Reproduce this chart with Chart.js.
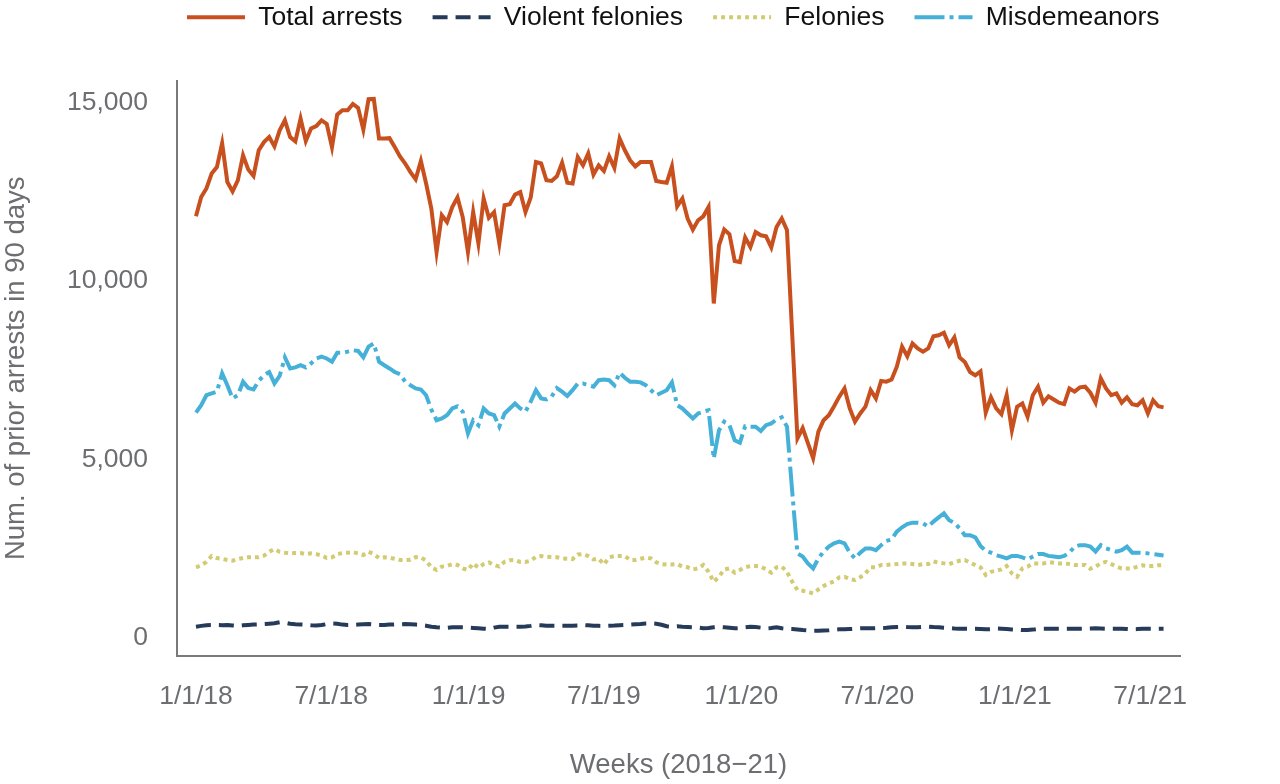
<!DOCTYPE html>
<html>
<head>
<meta charset="utf-8">
<script src="https://cdn.jsdelivr.net/npm/chart.js@4.4.1/dist/chart.umd.min.js"></script>
<style>
  html, body { margin: 0; padding: 0; background: #fff; }
  #wrap { width: 1280px; height: 784px; position: relative; }
</style>
</head>
<body>
<div id="wrap"><canvas id="chart-container"></canvas></div>
<script>
// weekly values, first week = 1/1/18
const totalArrests = [
  11810, 12350, 12590, 13010, 13190, 13860, 12770, 12510, 12820, 13520,
  13120, 12940, 13660, 13890, 14030, 13770, 14220, 14500, 14030, 13910,
  14550, 13920, 14270, 14340, 14500, 14400, 13750, 14660, 14780, 14780,
  14960, 14850, 14240, 15090, 15100, 13990, 13990, 14000, 13750, 13490,
  13290, 13050, 12850, 13360, 12730, 12030, 10810, 11840, 11650, 12070,
  12340, 11790, 10810, 11930, 11050, 12310, 11770, 11930, 11050, 12120,
  12150, 12420, 12490, 11930, 12340, 13330, 13290, 12820, 12800, 12930,
  13310, 12750, 12730, 13470, 13240, 13570, 12980, 13240, 13080, 13490,
  13170, 13990, 13660, 13380, 13210, 13330, 13330, 13330, 12800, 12770,
  12750, 13210, 12090, 12310, 11750, 11440, 11700, 11810, 12070, 9370,
  11000, 11440, 11310, 10560, 10530, 11220, 10950, 11370, 11280, 11250,
  10940, 11510, 11750, 11420, 8500, 5590, 5880, 5460, 5040, 5780,
  6100, 6240, 6490, 6760, 6990, 6430, 6060, 6290, 6480, 6940,
  6710, 7200, 7180, 7240, 7600, 8160, 7890, 8250, 8110, 8020,
  8110, 8450, 8480, 8550, 8200, 8420, 7860, 7730, 7450, 7360,
  7470, 6310, 6740, 6430, 6270, 6800, 5820, 6480, 6570, 6200,
  6800, 7040, 6590, 6770, 6680, 6590, 6550, 6990, 6900, 7020,
  7040, 6870, 6590, 7270, 6990, 6800, 6850, 6590, 6740, 6550,
  6520, 6660, 6290, 6660, 6490, 6460
];
const violentFelonies = [
  317, 340, 360, 364, 364, 360, 364, 350, 340, 355,
  364, 375, 380, 392, 400, 411, 440, 430, 400, 385,
  380, 375, 360, 350, 362, 390, 405, 400, 375, 364,
  364, 375, 385, 392, 380, 364, 364, 375, 382, 385,
  390, 385, 375, 364, 345, 317, 300, 290, 285, 300,
  298, 298, 290, 280, 271, 260, 250, 290, 317, 317,
  317, 317, 317, 325, 340, 364, 355, 345, 345, 345,
  345, 345, 345, 350, 364, 355, 345, 340, 336, 345,
  350, 360, 364, 375, 385, 392, 405, 411, 400, 370,
  330, 317, 330, 317, 310, 300, 290, 275, 280, 300,
  310, 300, 285, 271, 280, 300, 317, 305, 290, 271,
  280, 300, 271, 255, 250, 240, 224, 215, 205, 205,
  210, 215, 230, 243, 243, 250, 260, 271, 271, 271,
  275, 280, 285, 298, 310, 317, 305, 298, 300, 310,
  317, 305, 298, 290, 280, 265, 261, 261, 261, 261,
  255, 243, 250, 265, 261, 250, 240, 235, 224, 224,
  235, 255, 261, 261, 261, 261, 261, 261, 261, 261,
  261, 265, 271, 268, 261, 261, 261, 261, 255, 245,
  250, 258, 261, 261, 261, 261
];
const felonies = [
  1980, 2035, 2135, 2295, 2240, 2220, 2185, 2165, 2210, 2240,
  2260, 2260, 2265, 2305, 2415, 2490, 2415, 2390, 2370, 2380,
  2380, 2350, 2370, 2350, 2315, 2240, 2260, 2350, 2380, 2390,
  2405, 2370, 2325, 2415, 2350, 2240, 2260, 2250, 2220, 2185,
  2185, 2190, 2265, 2260, 2165, 1980, 1905, 2000, 2015, 2070,
  2045, 1950, 1905, 2090, 1970, 2070, 2120, 2045, 2000, 2135,
  2175, 2185, 2130, 2130, 2165, 2275, 2295, 2275, 2265, 2260,
  2230, 2220, 2210, 2340, 2350, 2295, 2200, 2220, 2060, 2260,
  2295, 2295, 2295, 2185, 2185, 2220, 2250, 2230, 2120, 2070,
  2055, 2060, 2070, 2000, 1980, 1920, 1950, 2045, 1855, 1575,
  1715, 1920, 1950, 1830, 1905, 1980, 2015, 2015, 2000, 1920,
  1830, 1980, 2000, 1855, 1575, 1345, 1325, 1290, 1250, 1360,
  1455, 1530, 1585, 1700, 1715, 1650, 1625, 1700, 1810, 1980,
  1980, 2045, 2045, 2060, 2070, 2090, 2090, 2070, 2045, 2070,
  2070, 2145, 2110, 2090, 2070, 2125, 2165, 2185, 2110, 2045,
  1980, 1765, 1855, 1885, 1920, 2015, 1810, 1715, 1950, 2000,
  2090, 2090, 2090, 2125, 2110, 2090, 2090, 2070, 2045, 2045,
  2045, 1940, 2000, 2090, 2135, 2070, 2000, 1950, 1950, 1950,
  2000, 2035, 2015, 2015, 2035, 2045
];
const misdemeanors = [
  6310, 6520, 6800, 6850, 6900, 7410, 7080, 6710, 6800, 7180,
  7000, 6960, 7200, 7360, 7450, 7130, 7340, 7860, 7550, 7580,
  7640, 7580, 7690, 7830, 7880, 7830, 7740, 7990, 7990, 8020,
  8060, 8040, 7860, 8160, 8250, 7740, 7640, 7550, 7450, 7390,
  7180, 7080, 6990, 6960, 6800, 6400, 6100, 6150, 6240, 6430,
  6490, 6340, 5730, 6100, 5960, 6430, 6290, 6240, 5920, 6290,
  6430, 6570, 6430, 6340, 6620, 6940, 6710, 6680, 6760, 7000,
  6900, 6780, 6940, 7130, 7130, 7080, 7040, 7220, 7240, 7220,
  7080, 7430, 7290, 7180, 7180, 7160, 7080, 6940, 6800, 6870,
  6940, 7160, 6520, 6430, 6290, 6150, 6290, 6340, 6380, 5030,
  5820, 6060, 5960, 5540, 5470, 5930, 5920, 5920, 5800, 5960,
  6010, 6120, 6180, 5920, 4100, 2370, 2280, 2090, 1950, 2230,
  2420, 2560, 2650, 2700, 2650, 2390, 2230, 2390, 2510, 2510,
  2460, 2600, 2720, 2760, 2980, 3100, 3190, 3230, 3230, 3210,
  3120, 3260, 3380, 3490, 3300, 3230, 3070, 2880, 2880, 2820,
  2580, 2440, 2390, 2320, 2280, 2230, 2300, 2300, 2260, 2200,
  2280, 2350, 2350, 2300, 2280, 2260, 2300, 2390, 2560, 2600,
  2600, 2560, 2420, 2600, 2510, 2460, 2420, 2460, 2560, 2390,
  2390, 2390, 2370, 2350, 2330, 2310
];

// x axis counts days from 1/1/18
const tickDays = [0, 181, 365, 546, 730, 912, 1096, 1277];
const tickLabels = ['1/1/18', '7/1/18', '1/1/19', '7/1/19', '1/1/20', '7/1/20', '1/1/21', '7/1/21'];
const yTicks = [0, 5000, 10000, 15000];

const weekDays = totalArrests.map((_, i) => i * 7);
const toPoints = vals => vals.map((v, i) => ({ x: weekDays[i], y: v }));

const FONT = "'Liberation Sans', Arial, sans-serif";
const GREY = '#6d6e71';
const AXIS = '#7a7a7a';

Chart.defaults.font.family = FONT;

// legend starts at a fixed left edge like the original figure
const legendPlace = {
  id: 'legendPlace',
  afterLayout(chart) {
    const lg = chart.legend;
    const w = lg.right - lg.left;
    lg.left = 157;
    lg.right = lg.left + w;
  }
};

const ctx = document.getElementById('chart-container').getContext('2d');
new Chart(ctx, {
  type: 'line',
  data: {
    datasets: [
      {
        label: 'Total arrests',
        data: toPoints(totalArrests),
        borderColor: '#c8501e',
        backgroundColor: '#c8501e',
        borderWidth: 4
      },
      {
        label: 'Violent felonies',
        data: toPoints(violentFelonies),
        borderColor: '#263a5a',
        backgroundColor: '#263a5a',
        borderWidth: 4,
        borderDash: [15, 8]
      },
      {
        label: 'Felonies',
        data: toPoints(felonies),
        borderColor: '#d3cb72',
        backgroundColor: '#d3cb72',
        borderWidth: 4,
        borderDash: [4, 4]
      },
      {
        label: 'Misdemeanors',
        data: toPoints(misdemeanors),
        borderColor: '#45b1d8',
        backgroundColor: '#45b1d8',
        borderWidth: 4,
        borderDash: [30, 5, 4, 5]
      }
    ]
  },
  plugins: [legendPlace],
  options: {
    responsive: true,
    maintainAspectRatio: false,
    animation: false,
    elements: {
      point: { radius: 0, hoverRadius: 0 },
      line: { tension: 0, fill: false }
    },
    layout: { padding: { top: -26, right: 100, bottom: 0, left: 0 } },
    plugins: {
      legend: {
        position: 'top',
        align: 'start',
        labels: {
          usePointStyle: true,
          pointStyle: 'line',
          pointStyleWidth: 58,
          padding: 30,
          color: '#111',
          font: { size: 26.5 },
          generateLabels: chart =>
            Chart.defaults.plugins.legend.labels.generateLabels(chart).map(item => ({
              ...item,
              lineDash: chart.data.datasets[item.datasetIndex].borderDash || [],
              lineWidth: 4
            }))
        }
      },
      // empty title used as a spacer between legend and plot
      title: {
        display: true,
        text: ' ',
        weight: 100,
        font: { size: 10 },
        padding: { top: 14, bottom: 14 }
      },
      tooltip: { enabled: false }
    },
    scales: {
      x: {
        type: 'linear',
        min: -25.4,
        max: 1317,
        grid: { display: false, drawTicks: false },
        border: { display: true, color: AXIS, width: 2 },
        afterBuildTicks: scale => { scale.ticks = tickDays.map(v => ({ value: v })); },
        afterFit: scale => { scale.height = 128; },
        ticks: {
          color: GREY,
          font: { size: 26.5 },
          padding: 25,
          maxRotation: 0,
          callback: value => tickLabels[tickDays.indexOf(value)]
        },
        title: {
          display: true,
          text: 'Weeks (2018\u221221)',
          color: GREY,
          font: { size: 27.5 },
          padding: { top: 0, bottom: 2 }
        }
      },
      y: {
        min: -504,
        max: 15615,
        grid: { display: false, drawTicks: false },
        border: { display: true, color: AXIS, width: 2 },
        afterBuildTicks: scale => { scale.ticks = yTicks.map(v => ({ value: v })); },
        afterFit: scale => { scale.width = 177; },
        ticks: {
          color: GREY,
          font: { size: 26.5 },
          padding: 29,
          callback: value => value.toLocaleString('en-US')
        },
        title: {
          display: true,
          text: 'Num. of prior arrests in 90 days',
          color: GREY,
          font: { size: 27.5 },
          padding: { top: 0, bottom: 0 }
        }
      }
    }
  }
});
</script>
</body>
</html>
